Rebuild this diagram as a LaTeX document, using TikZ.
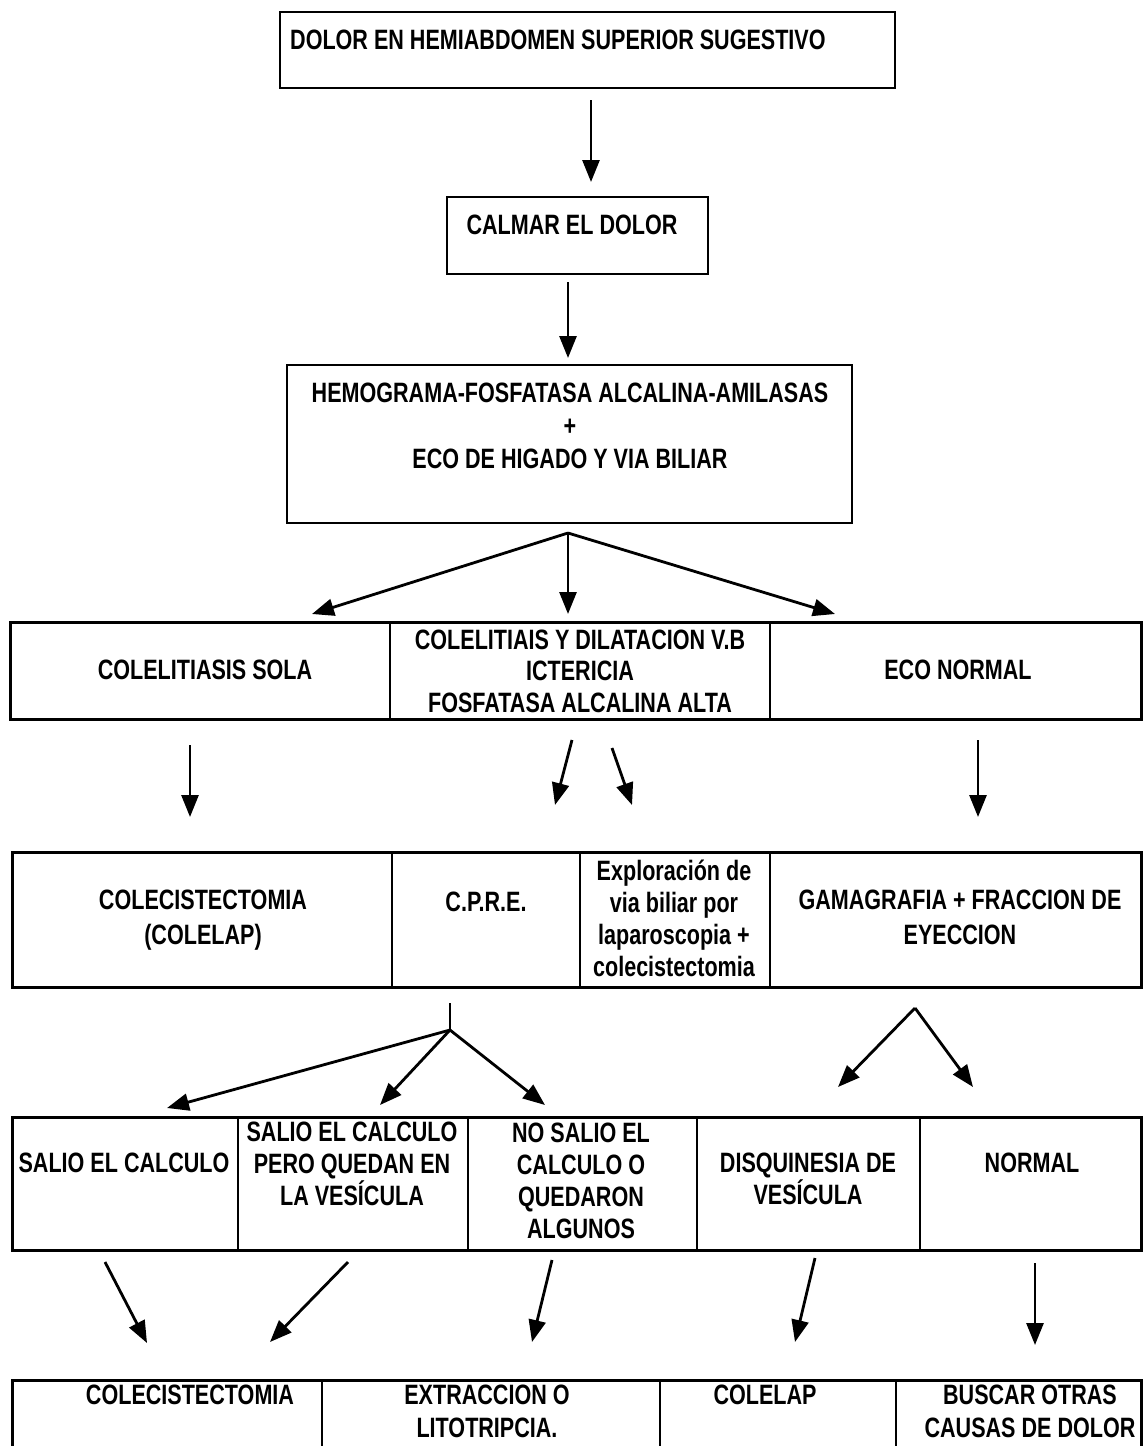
\documentclass[tikz,border=0pt]{standalone}
\usepackage{fontspec}
\setmainfont{Liberation Sans}[FakeStretch=0.77]
\usetikzlibrary{arrows.meta}
\tikzset{
  box/.style={line width=2pt},
  rowbox/.style={line width=3pt},
  divider/.style={line width=2pt},
  lbl/.style={inner sep=0pt, align=center, font=\fontsize{28}{32}\selectfont\bfseries},
  arr/.style={line width=2.8pt, -{Triangle[length=22pt,width=17pt]}},
  stem/.style={line width=2.8pt}
}
\begin{document}
\begin{tikzpicture}[x=1pt,y=-1pt]
\useasboundingbox (0,0) rectangle (1143,1446);
\clip (0,0) rectangle (1143,1446);
\fill[white] (0,0) rectangle (1143,1446);

% top boxes
\draw[box] (280,12) rectangle (895,88);
\node[lbl, anchor=west] (t1) at (290,40) {DOLOR EN HEMIABDOMEN SUPERIOR SUGESTIVO};
\draw[box] (447,197) rectangle (708,274);
\node[lbl] (t2) at (572,225) {CALMAR EL DOLOR};
\draw[box] (287,365) rectangle (852,523);
\node[lbl, font=\fontsize{28}{33}\selectfont\bfseries] (t3) at (570,426) {HEMOGRAMA-FOSFATASA ALCALINA-AMILASAS\\+\\ECO DE HIGADO Y VIA BILIAR};

% row 1
\draw[rowbox] (10,622) rectangle (1141,719);
\draw[divider] (390,622) -- (390,719);
\draw[divider] (770,622) -- (770,719);
\node[lbl] (r1a) at (205,670) {COLELITIASIS SOLA};
\node[lbl, font=\fontsize{28}{31.5}\selectfont\bfseries] (r1b) at (580,671) {COLELITIAIS Y DILATACION V.B\\ICTERICIA\\FOSFATASA ALCALINA ALTA};
\node[lbl] (r1c) at (958,670) {ECO NORMAL};

% row 2
\draw[rowbox] (12,852) rectangle (1141,987);
\draw[divider] (392,852) -- (392,987);
\draw[divider] (580,852) -- (580,987);
\draw[divider] (770,852) -- (770,987);
\node[lbl, font=\fontsize{28}{35}\selectfont\bfseries] (r2a) at (203,920) {COLECISTECTOMIA\\(COLELAP)};
\node[lbl] (r2b) at (486,902) {C.P.R.E.};
\node[lbl] (r2c) at (674,918) {Exploración de\\via biliar por\\laparoscopia +\\colecistectomia};
\node[lbl, font=\fontsize{28}{35}\selectfont\bfseries] (r2d) at (960,917) {GAMAGRAFIA + FRACCION DE\\EYECCION};

% row 3
\draw[rowbox] (12,1117) rectangle (1141,1250);
\draw[divider] (238,1117) -- (238,1250);
\draw[divider] (468,1117) -- (468,1250);
\draw[divider] (697,1117) -- (697,1250);
\draw[divider] (920,1117) -- (920,1250);
\node[lbl] (r3a) at (124,1163) {SALIO EL CALCULO};
\node[lbl] (r3b) at (352,1164) {SALIO EL CALCULO\\PERO QUEDAN EN\\LA VESÍCULA};
\node[lbl] (r3c) at (581,1181) {NO SALIO EL\\CALCULO O\\QUEDARON\\ALGUNOS};
\node[lbl] (r3d) at (808,1179) {DISQUINESIA DE\\VESÍCULA};
\node[lbl] (r3e) at (1032,1163) {NORMAL};

% row 4
\draw[rowbox] (12,1380) rectangle (1141,1470);
\draw[divider] (322,1380) -- (322,1470);
\draw[divider] (660,1380) -- (660,1470);
\draw[divider] (896,1380) -- (896,1470);
\node[lbl] (r4a) at (190,1395) {COLECISTECTOMIA};
\node[lbl, font=\fontsize{28}{33}\selectfont\bfseries] (r4b) at (487,1411) {EXTRACCION O\\LITOTRIPCIA.};
\node[lbl] (r4c) at (765,1395) {COLELAP};
\node[lbl, font=\fontsize{28}{33}\selectfont\bfseries] (r4d) at (1030,1411) {BUSCAR OTRAS\\CAUSAS DE DOLOR};

% connector coordinates
\coordinate (a1s) at (591,100); \coordinate (a1e) at (591,182);
\coordinate (a2s) at (568,282); \coordinate (a2e) at (568,358);
\coordinate (f0) at (568,533);
\coordinate (f1) at (312,614); \coordinate (f2) at (568,614); \coordinate (f3) at (835,614);
\coordinate (b1s) at (190,745); \coordinate (b1e) at (190,817);
\coordinate (b2s) at (572,740); \coordinate (b2e) at (555,805);
\coordinate (b3s) at (612,748); \coordinate (b3e) at (632,805);
\coordinate (b4s) at (978,740); \coordinate (b4e) at (978,817);
\coordinate (c0) at (450,1003); \coordinate (c1) at (450,1030);
\coordinate (c2) at (167,1108); \coordinate (c3) at (380,1105); \coordinate (c4) at (545,1105);
\coordinate (d0) at (915,1008);
\coordinate (d1) at (838,1087); \coordinate (d2) at (973,1087);
\coordinate (e1s) at (105,1262); \coordinate (e1e) at (147,1343);
\coordinate (e2s) at (348,1262); \coordinate (e2e) at (270,1342);
\coordinate (e3s) at (552,1260); \coordinate (e3e) at (532,1342);
\coordinate (e4s) at (815,1258); \coordinate (e4e) at (795,1342);
\coordinate (e5s) at (1035,1263); \coordinate (e5e) at (1035,1345);

% connectors
\draw[arr] (a1s) -- (a1e);
\draw[arr] (a2s) -- (a2e);
\draw[arr] (f0) -- (f1);
\draw[arr] (f0) -- (f2);
\draw[arr] (f0) -- (f3);
\draw[arr] (b1s) -- (b1e);
\draw[arr] (b2s) -- (b2e);
\draw[arr] (b3s) -- (b3e);
\draw[arr] (b4s) -- (b4e);
\draw[stem] (c0) -- (c1);
\draw[arr] (c1) -- (c2);
\draw[arr] (c1) -- (c3);
\draw[arr] (c1) -- (c4);
\draw[arr] (d0) -- (d1);
\draw[arr] (d0) -- (d2);
\draw[arr] (e1s) -- (e1e);
\draw[arr] (e2s) -- (e2e);
\draw[arr] (e3s) -- (e3e);
\draw[arr] (e4s) -- (e4e);
\draw[arr] (e5s) -- (e5e);
\end{tikzpicture}
\end{document}
